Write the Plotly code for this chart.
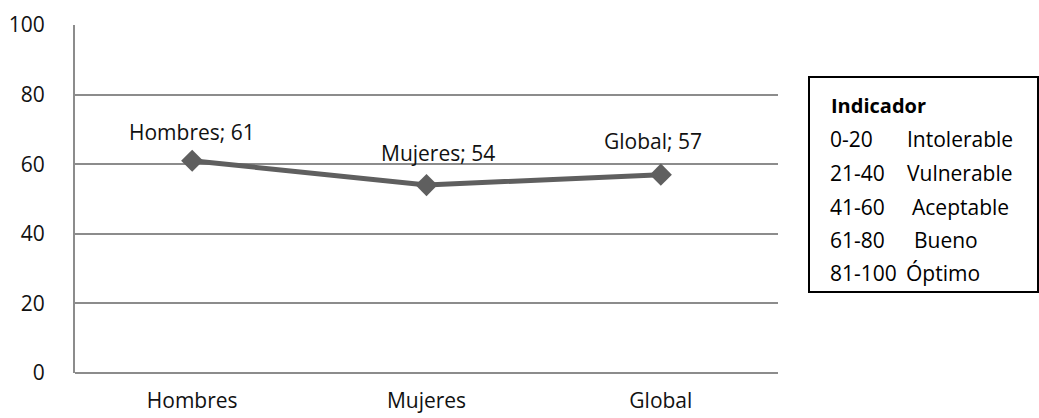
import plotly.graph_objects as go

# Index values per group
categories = ["Hombres", "Mujeres", "Global"]
values = [61, 54, 57]

# Interpretation scale shown in the side box
scale_title = "Indicador"
scale_ranges = ["0-20", "21-40", "41-60", "61-80", "81-100"]
scale_labels = ["Intolerable", "Vulnerable", "Aceptable", "Bueno", "Óptimo"]

y_ticks = [0, 20, 40, 60, 80, 100]

FONT = "Open Sans"
GRID = "#8c8c8c"
LINE = "#5f5f5f"
TEXT = "#111111"

W, H = 1039, 418
L, R, T, B = 75, 261, 25, 45
pw, ph = W - L - R, H - T - B


def px_x(px):
    return (px - L) / pw


def px_y(py):
    return (H - B - py) / ph


fig = go.Figure()
fig.add_trace(go.Scatter(
    x=categories, y=values,
    mode="lines+markers",
    line=dict(color=LINE, width=5),
    marker=dict(symbol="diamond", size=17, color=LINE),
    showlegend=False,
    hoverinfo="skip",
))

# Data labels "Categoría; valor" above each point
label_dx = [0, 11, -8]
label_dy = [29, 32, 34]
for c, v, dx, dy in zip(categories, values, label_dx, label_dy):
    fig.add_annotation(
        x=c, y=v, text=f"{c}; {v}", showarrow=False,
        yshift=dy, xshift=dx,
        font=dict(family=FONT, size=21, color=TEXT),
    )

# Scale box
fig.add_shape(
    type="rect", xref="paper", yref="paper",
    x0=px_x(809), x1=px_x(1038), y0=px_y(292), y1=px_y(77),
    line=dict(color="#000000", width=2), fillcolor="white",
)
fig.add_annotation(
    xref="paper", yref="paper", x=px_x(829), y=px_y(105),
    xanchor="left", yanchor="middle", showarrow=False,
    text=f"<b>{scale_title}</b>",
    font=dict(family=FONT, size=20, color="#000000"),
)
row_y = [139, 173, 207, 240, 273]
col2_x = [905, 905, 910, 912, 904]
for rng, lab, ry, cx in zip(scale_ranges, scale_labels, row_y, col2_x):
    fig.add_annotation(
        xref="paper", yref="paper", x=px_x(828), y=px_y(ry),
        xanchor="left", yanchor="middle", showarrow=False, text=rng,
        font=dict(family=FONT, size=21, color="#000000"),
    )
    fig.add_annotation(
        xref="paper", yref="paper", x=px_x(cx), y=px_y(ry),
        xanchor="left", yanchor="middle", showarrow=False, text=lab,
        font=dict(family=FONT, size=21, color="#000000"),
    )

fig.update_layout(
    width=W, height=H,
    margin=dict(l=L, r=R, t=T, b=B, pad=0, autoexpand=False),
    paper_bgcolor="white", plot_bgcolor="white",
    font=dict(family=FONT, size=21, color=TEXT),
    xaxis=dict(
        type="category", range=[-0.5, 2.5], automargin=False,
        showgrid=False, showline=False, zeroline=False,
        ticks="", ticklabelstandoff=13,
        tickfont=dict(family=FONT, size=21, color=TEXT),
    ),
    yaxis=dict(
        range=[0, 100], tickvals=y_ticks, automargin=False,
        showgrid=True, gridcolor=GRID, gridwidth=2,
        showline=True, linecolor=GRID, linewidth=2,
        zeroline=True, zerolinecolor=GRID, zerolinewidth=2,
        ticks="", ticklabelstandoff=24,
        tickfont=dict(family=FONT, size=21, color=TEXT),
    ),
)

fig.write_html("out.html")
